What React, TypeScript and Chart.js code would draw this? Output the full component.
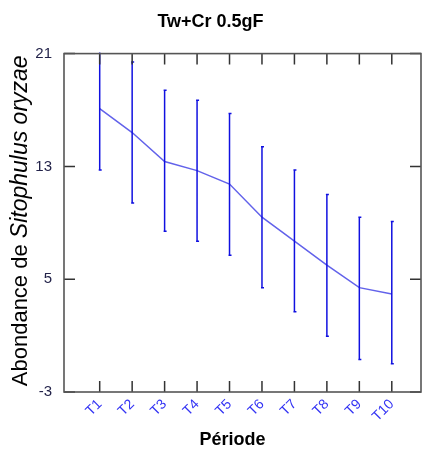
import React, { useEffect, useRef } from "react";
import { Chart, registerables } from "chart.js";

Chart.register(...registerables);

const categories = ["T1", "T2", "T3", "T4", "T5", "T6", "T7", "T8", "T9", "T10"];
const means = [17.1, 15.4, 13.35, 12.7, 11.75, 9.4, 7.7, 6.0, 4.4, 3.95];
const upper = [21.5, 20.4, 18.4, 17.7, 16.75, 14.4, 12.75, 11.0, 9.4, 9.1];
const lower = [12.75, 10.4, 8.4, 7.7, 6.7, 4.4, 2.7, 0.95, -0.7, -1.0];
const yTicks = [-3, 5, 13, 21];

const FONT = "'Liberation Sans', Arial, sans-serif";

const framePlugin = {
  id: "frame",
  afterDatasetsDraw(chart: any) {
    const { ctx, chartArea: a, scales } = chart;
    ctx.save();
    ctx.strokeStyle = "#333";
    ctx.lineWidth = 1.5;
    ctx.beginPath();
    categories.forEach((_, i) => {
      const x = scales.x.getPixelForValue(i + 1);
      ctx.moveTo(x, a.bottom);
      ctx.lineTo(x, a.bottom - 11);
      ctx.moveTo(x, a.top);
      ctx.lineTo(x, a.top + 11);
    });
    yTicks.forEach((v) => {
      const y = scales.y.getPixelForValue(v);
      ctx.moveTo(a.left, y);
      ctx.lineTo(a.left + 11, y);
      ctx.moveTo(a.right, y);
      ctx.lineTo(a.right - 11, y);
    });
    ctx.stroke();
    ctx.strokeStyle = "#555";
    ctx.lineWidth = 1.6;
    ctx.strokeRect(a.left, a.top, a.right - a.left, a.bottom - a.top);
    ctx.restore();
  },
};

const errorBarPlugin = {
  id: "errorBars",
  afterDatasetsDraw(chart: any) {
    const { ctx, chartArea: a, scales } = chart;
    ctx.save();
    ctx.beginPath();
    ctx.rect(a.left, a.top - 1, a.right - a.left, a.bottom - a.top + 2);
    ctx.clip();
    ctx.strokeStyle = "#1010e0";
    ctx.lineWidth = 1.5;
    ctx.beginPath();
    categories.forEach((_, i) => {
      const x = scales.x.getPixelForValue(i + 1);
      const yt = scales.y.getPixelForValue(upper[i]);
      const yb = scales.y.getPixelForValue(lower[i]);
      ctx.moveTo(x, yt);
      ctx.lineTo(x, yb);
      ctx.moveTo(x - 1, yt);
      ctx.lineTo(x + 2, yt);
      ctx.moveTo(x - 1, yb);
      ctx.lineTo(x + 2, yb);
    });
    ctx.stroke();
    ctx.restore();
  },
};

const axisTitlePlugin = {
  id: "axisTitles",
  afterDraw(chart: any) {
    const { ctx, chartArea: a } = chart;
    ctx.save();
    ctx.fillStyle = "#000";
    ctx.textBaseline = "middle";
    ctx.textAlign = "center";
    ctx.font = `bold 18px ${FONT}`;
    ctx.fillText("Période", (a.left + a.right) / 2 - 10, 440);

    const p1 = "Abondance de ";
    const p2 = "Sitophulus oryzae";
    const f1 = `22px ${FONT}`;
    const f2 = `italic 23px ${FONT}`;
    ctx.font = f1;
    const w1 = ctx.measureText(p1).width;
    ctx.font = f2;
    const w2 = ctx.measureText(p2).width;
    const total = w1 + w2;
    ctx.translate(21, (a.top + a.bottom) / 2 - 2);
    ctx.rotate(-Math.PI / 2);
    ctx.textAlign = "left";
    ctx.font = f1;
    ctx.fillText(p1, -total / 2, 0);
    ctx.font = f2;
    ctx.fillText(p2, -total / 2 + w1, 0);
    ctx.restore();
  },
};

export default function App() {
  const ref = useRef<HTMLCanvasElement | null>(null);
  useEffect(() => {
    document.body.style.margin = "0";
    document.body.style.overflow = "hidden";
    const canvas = ref.current!;
    const chart = new Chart(canvas, {
      type: "line",
      data: {
        datasets: [
          {
            data: means.map((y, i) => ({ x: i + 1, y })),
            borderColor: "rgba(70,70,230,0.85)",
            borderWidth: 1.5,
            pointRadius: 0,
            tension: 0,
            fill: false,
          },
        ],
      },
      options: {
        responsive: false,
        animation: false,
        layout: { padding: { left: 0, right: 4, top: 0, bottom: 0 } },
        plugins: {
          legend: { display: false },
          tooltip: { enabled: false },
          title: {
            display: true,
            text: "Tw+Cr 0.5gF",
            color: "#000",
            font: { family: FONT, size: 18, weight: "bold" },
            padding: { top: 11, bottom: 21 },
          },
        },
        scales: {
          x: {
            type: "linear",
            min: -0.1,
            max: 10.9,
            afterBuildTicks: (s: any) => {
              s.ticks = categories.map((_, i) => ({ value: i + 1 }));
            },
            afterFit: (s: any) => {
              s.height = 66;
            },
            ticks: {
              autoSkip: false,
              minRotation: 45,
              maxRotation: 45,
              padding: 4,
              color: "#3434f4",
              font: { family: FONT, size: 14 },
              callback: (v: any) => categories[Math.round(v) - 1] ?? "",
            },
            grid: { display: false, drawTicks: false },
            border: { display: false },
          },
          y: {
            min: -3,
            max: 21,
            afterBuildTicks: (s: any) => {
              s.ticks = yTicks.map((v) => ({ value: v }));
            },
            afterFit: (s: any) => {
              s.width = 64;
            },
            ticks: {
              padding: 12,
              color: "#23234a",
              font: { family: FONT, size: 15 },
            },
            grid: { display: false, drawTicks: false },
            border: { display: false },
          },
        },
      },
      plugins: [errorBarPlugin, framePlugin, axisTitlePlugin],
    } as any);
    return () => chart.destroy();
  }, []);
  return (
    <div style={{ width: 425, height: 458, background: "#fff" }}>
      <canvas ref={ref} width={425} height={458} style={{ display: "block" }} />
    </div>
  );
}
